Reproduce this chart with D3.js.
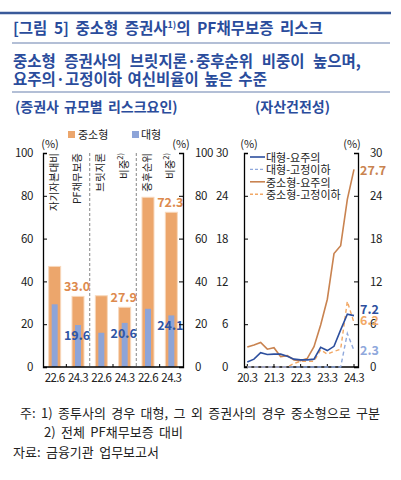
<!DOCTYPE html>
<html><head><meta charset="utf-8">
<script src="https://cdn.jsdelivr.net/npm/d3@7"></script>
<style>
body{margin:0;background:#fff;}
svg text{font-family:"Noto Sans CJK KR","Noto Sans",sans-serif;}
</style></head>
<body><svg id="c" width="401" height="480"></svg>
<script>
// ---- data ----
const groups = ["자기자본대비|PF채무보증", "브릿지론|비중", "중후순위|비중"];
const groupSup = ["", "2)", "2)"];
const periods = ["22.6", "24.3"];
const smallMid = [47.0, 33.0, 33.3, 27.9, 79.3, 72.3];   // 중소형
const large    = [29.3, 19.6, 16.0, 20.6, 27.2, 24.1];   // 대형
const smallMidLabels = [null, "33.0", null, "27.9", null, "72.3"];
const largeLabels    = [null, "19.6", null, "20.6", null, "24.1"];
const barTicks = [0, 20, 40, 60, 80, 100];

const quarters = ["20.3","20.6","20.9","20.12","21.3","21.6","21.9","21.12","22.3","22.6","22.9","22.12","23.3","23.6","23.9","23.12","24.3"];
const quarterTicks = ["20.3","21.3","22.3","23.3","24.3"];
const largeWatch  = [0.7,1.1,2.0,1.75,1.8,1.8,1.5,1.1,1.0,1.0,1.1,2.75,2.3,2.9,5.2,7.4,7.2];
const largeSub    = [0,0,0,0,0,0,0,0,0,0,0,0,0,0,0,4.7,2.3];
const smallWatch  = [2.8,3.1,3.45,2.5,2.7,1.45,1.6,1.0,0.9,1.2,2.85,5.9,9.5,15.9,17.0,23.5,27.7];
const smallSub    = [0,0,0,0,0,0,0,0.5,0.8,0.8,0.8,2.4,1.8,2.2,2.5,9.2,6.2];
const lineTicks = [0, 6, 12, 18, 24, 30];

const svg = d3.select("#c");
const C = {title:"#2A4C9C", orange:"#ECA66C", orangeStroke:"#F8D8BC", blue:"#8DA4D8",
  oLab:"#DD8A4E", bLab:"#2F55A4", dBlue:"#2D4F9E", lBlue:"#8FA8DC", oLine:"#C98350", oDash:"#F2A865"};
const numFont = "'Noto Sans','DejaVu Sans',sans-serif";

// ---- header ----
svg.append("line").attr("x1",0).attr("x2",391).attr("y1",13).attr("y2",13).attr("stroke","#3A5A9A").attr("stroke-width",2.5);
const t = svg.append("text").attr("x",13).attr("y",34).attr("font-size",15.5).attr("font-weight","bold").attr("fill",C.title).attr("word-spacing",3);
t.append("tspan").text("[그림 5] 중소형 증권사");
t.append("tspan").attr("font-size",9).attr("dy",-6).text("1)");
t.append("tspan").attr("dy",6).text("의 PF채무보증 리스크");
svg.append("line").attr("x1",12).attr("x2",390).attr("y1",43).attr("y2",43).attr("stroke","#9AAAC8").attr("stroke-width",1.5);
svg.append("text").attr("x",13).attr("y",67).attr("font-size",15.5).attr("font-weight","bold").attr("fill",C.title).attr("word-spacing",5)
  .text("중소형 증권사의 브릿지론·중후순위 비중이 높으며,");
svg.append("text").attr("x",13).attr("y",85).attr("font-size",15.5).attr("font-weight","bold").attr("fill",C.title).attr("word-spacing",2)
  .text("요주의·고정이하 여신비율이 높은 수준");
svg.append("line").attr("x1",12).attr("x2",390).attr("y1",92).attr("y2",92).attr("stroke","#9AAAC8").attr("stroke-width",1.5);
svg.append("text").attr("x",15).attr("y",112).attr("font-size",14).attr("font-weight","bold").attr("fill",C.title).attr("word-spacing",2).text("(증권사 규모별 리스크요인)");
svg.append("text").attr("x",255).attr("y",112).attr("font-size",14).attr("font-weight","bold").attr("fill",C.title).text("(자산건전성)");

// ---- bar chart ----
const bx0 = 43, bx1 = 183, yTop = 153, yBot = 367;
const keys = [];
groups.forEach((g,i)=>periods.forEach(p=>keys.push(i+"_"+p)));
const xb = d3.scaleBand().domain(keys).range([bx0,bx1]).paddingInner(0.486).paddingOuter(0.243);
const yb = d3.scaleLinear().domain([0,100]).range([yBot,yTop]);
const bw = xb.bandwidth();

const gB = svg.append("g");
[1,2].forEach(i=>{
  const x = bx0 + (bx1-bx0)*i/3;
  gB.append("line").attr("x1",x).attr("x2",x).attr("y1",yTop).attr("y2",yBot)
    .attr("stroke","#9A9A9A").attr("stroke-width",1.2).attr("stroke-dasharray","3,2");
});
gB.selectAll("rect.o").data(smallMid).join("rect").attr("class","o")
  .attr("x",(d,i)=>xb(keys[i])).attr("width",bw).attr("y",d=>yb(d)).attr("height",d=>yBot-yb(d))
  .attr("fill",C.orange).attr("stroke",C.orangeStroke).attr("stroke-width",1);
gB.selectAll("rect.b").data(large).join("rect").attr("class","b")
  .attr("x",(d,i)=>xb(keys[i])+bw/2-3).attr("width",6).attr("y",d=>yb(d)).attr("height",d=>yBot-yb(d))
  .attr("fill",C.blue);
smallMid.forEach((d,i)=>{ if(smallMidLabels[i]) gB.append("text").attr("x",xb(keys[i])+bw/2-1).attr("y",yb(d)-5)
  .attr("text-anchor","middle").attr("font-size",12.5).attr("font-weight","bold").attr("fill",C.oLab).attr("font-family",numFont).text(smallMidLabels[i]); });
large.forEach((d,i)=>{ if(largeLabels[i]) gB.append("text").attr("x",xb(keys[i])+bw/2-1).attr("y",yb(d)+15)
  .attr("text-anchor","middle").attr("font-size",12.5).attr("font-weight","bold").attr("fill",C.bLab).attr("font-family",numFont).text(largeLabels[i]); });

const styleAxis = g=>{g.select(".domain").attr("stroke","#000").attr("stroke-width",1.3);
  g.selectAll(".tick line").attr("stroke","#000");
  g.selectAll(".tick text").attr("font-size",11.5).attr("fill","#222").attr("letter-spacing",-0.4).attr("font-family",numFont);};
const axL = d3.axisLeft(yb).tickValues(barTicks).tickSize(-4).tickPadding(10);
const gL = svg.append("g").attr("transform",`translate(${bx0},0)`).call(axL);
const axR = d3.axisRight(yb).tickValues(barTicks).tickSize(-4).tickPadding(12);
const gR = svg.append("g").attr("transform",`translate(${bx1},0)`).call(axR);
[gL,gR].forEach(g=>{styleAxis(g); g.selectAll(".tick").filter(d=>d===0).select("line").remove();});
svg.append("line").attr("x1",bx0).attr("x2",bx1).attr("y1",yBot).attr("y2",yBot).attr("stroke","#000").attr("stroke-width",1.3);
keys.forEach((k,i)=>{
  svg.append("text").attr("x",xb(k)+bw/2).attr("y",382).attr("text-anchor","middle").attr("font-size",11.5)
    .attr("letter-spacing",-0.6).attr("fill","#222").attr("font-family",numFont).text(periods[i%2]);
});
[0,1,2].forEach(i=>{ const x=bx0+(bx1-bx0)*(i+0.5)/3;
  svg.append("line").attr("x1",x).attr("x2",x).attr("y1",yBot).attr("y2",yBot-3).attr("stroke","#000"); });
groups.forEach((g,i)=>{
  const parts = g.split("|");
  parts.forEach((p,j)=>{
    const cx = xb(keys[i*2+j]) + bw/2 - 2;
    const tx = svg.append("text").attr("transform",`translate(${cx},${yTop}) rotate(-90)`)
      .attr("text-anchor","end").attr("dominant-baseline","central").attr("font-size",10.5).attr("fill","#222");
    tx.append("tspan").text(p);
    if(j===1 && groupSup[i]) tx.append("tspan").attr("font-size",7.5).attr("dy",-4).text(groupSup[i]);
  });
});
svg.append("text").attr("x",50).attr("y",148).attr("text-anchor","middle").attr("font-size",11).attr("fill","#222").text("(%)");
svg.append("text").attr("x",181).attr("y",148).attr("text-anchor","middle").attr("font-size",11).attr("fill","#222").text("(%)");
const lg = svg.append("g");
lg.append("rect").attr("x",68).attr("y",131).attr("width",7).attr("height",7).attr("fill",C.orange);
lg.append("text").attr("x",78).attr("y",139).attr("font-size",11).attr("fill","#222").text("중소형");
lg.append("rect").attr("x",132).attr("y",131).attr("width",7).attr("height",7).attr("fill",C.blue);
lg.append("text").attr("x",141).attr("y",139).attr("font-size",11).attr("fill","#222").text("대형");

// ---- line chart ----
const lx0 = 244, lx1 = 358;
const xl = d3.scalePoint().domain(quarters).range([247.3,354]);
const yl = d3.scaleLinear().domain([0,30]).range([yBot,yTop]);
const axL2 = d3.axisLeft(yl).tickValues(lineTicks).tickSize(-4).tickPadding(16);
const gL2 = svg.append("g").attr("transform",`translate(${lx0},0)`).call(axL2);
const axR2 = d3.axisRight(yl).tickValues(lineTicks).tickSize(-4).tickPadding(12);
const gR2 = svg.append("g").attr("transform",`translate(${lx1},0)`).call(axR2);
[gL2,gR2].forEach(g=>{styleAxis(g); g.selectAll(".tick").filter(d=>d===0||d===30).select("line").remove();});
svg.append("line").attr("x1",lx0).attr("x2",lx1).attr("y1",yBot).attr("y2",yBot).attr("stroke","#000").attr("stroke-width",1.3);
quarterTicks.forEach(q=>{
  svg.append("text").attr("x",xl(q)).attr("y",382).attr("text-anchor","middle").attr("font-size",11.5)
    .attr("letter-spacing",-0.6).attr("fill","#222").attr("font-family",numFont).text(q);
  svg.append("line").attr("x1",xl(q)).attr("x2",xl(q)).attr("y1",yBot).attr("y2",yBot-3).attr("stroke","#000");
});
svg.append("text").attr("x",249).attr("y",148).attr("text-anchor","middle").attr("font-size",11).attr("fill","#222").text("(%)");
svg.append("text").attr("x",352).attr("y",148).attr("text-anchor","middle").attr("font-size",11).attr("fill","#222").text("(%)");

const series = [
  {name:"대형-요주의", data:largeWatch, color:C.dBlue, dash:null, w:1.6},
  {name:"대형-고정이하", data:largeSub, color:C.lBlue, dash:"4,3", w:1.4},
  {name:"중소형-요주의", data:smallWatch, color:C.oLine, dash:null, w:1.6},
  {name:"중소형-고정이하", data:smallSub, color:C.oDash, dash:"4,3", w:1.4}
];
const line = d3.line().x((d,i)=>xl(quarters[i])).y(d=>yl(d));
[3,1,2,0].forEach(k=>{ const s=series[k];
  svg.append("path").attr("d",line(s.data)).attr("fill","none").attr("stroke",s.color)
    .attr("stroke-width",s.w).attr("stroke-dasharray",s.dash); });
series.forEach((s,i)=>{
  const y = 157 + i*12.4;
  svg.append("line").attr("x1",250).attr("x2",265).attr("y1",y).attr("y2",y).attr("stroke",s.color)
    .attr("stroke-width",s.w).attr("stroke-dasharray",s.dash?"3,2":null);
  svg.append("text").attr("x",266).attr("y",y).attr("dominant-baseline","central").attr("font-size",11).attr("fill","#222").text(s.name);
});
const endLab = [
  {v:smallWatch[16], t:"27.7", c:C.oLine, dy:0},
  {v:largeWatch[16], t:"7.2", c:C.dBlue, dy:-7},
  {v:smallSub[16], t:"6.2", c:C.oDash, dy:-3},
  {v:largeSub[16], t:"2.3", c:C.lBlue, dy:-1}
];
endLab.forEach(e=>svg.append("text").attr("x",360).attr("y",yl(e.v)+e.dy).attr("dominant-baseline","central")
  .attr("font-size",12.5).attr("font-weight","bold").attr("fill",e.c).attr("font-family",numFont).text(e.t));

// ---- footnotes ----
svg.append("text").attr("x",20).attr("y",418).attr("font-size",13).attr("word-spacing",2.5).attr("fill","#222").text("주: 1) 종투사의 경우 대형, 그 외 증권사의 경우 중소형으로 구분");
svg.append("text").attr("x",44).attr("y",437).attr("font-size",13).attr("word-spacing",2.5).attr("fill","#222").text("2) 전체 PF채무보증 대비");
svg.append("text").attr("x",13).attr("y",457).attr("font-size",13).attr("word-spacing",2.5).attr("fill","#222").text("자료: 금융기관 업무보고서");
</script></body></html>
